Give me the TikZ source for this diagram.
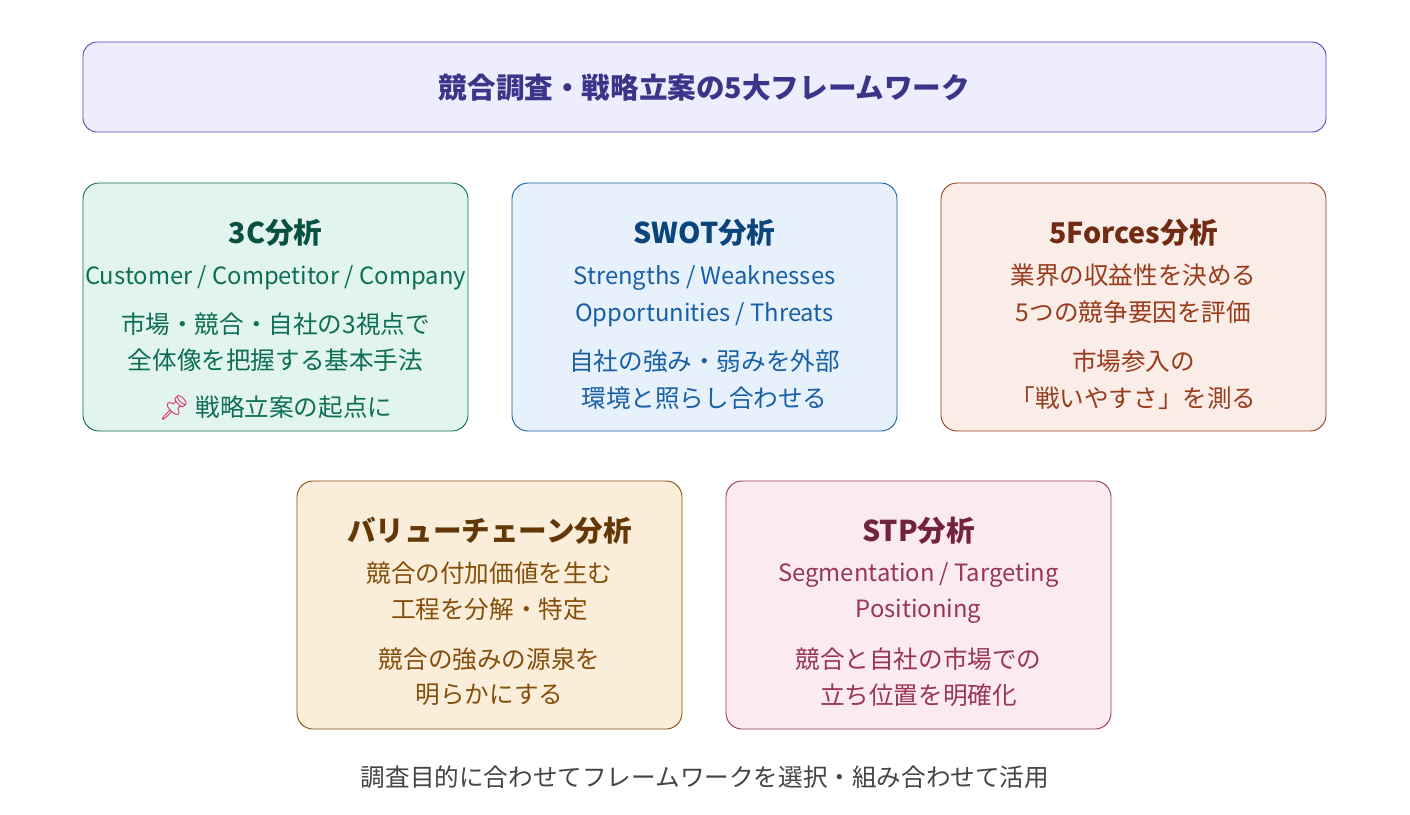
\documentclass[tikz,border=0pt]{standalone}
\usepackage{fontspec}
\setmainfont{Noto Sans CJK JP}
\newfontfamily\emojifont{Noto Emoji}
\definecolor{hdfill}{HTML}{EEEDFE}
\definecolor{hdline}{HTML}{534AB7}
\definecolor{hdtext}{HTML}{3C3489}
\definecolor{gfill}{HTML}{E1F5EE}
\definecolor{gline}{HTML}{0F6E56}
\definecolor{gtitle}{HTML}{085041}
\definecolor{bfill}{HTML}{E6F1FB}
\definecolor{bline}{HTML}{185FA5}
\definecolor{btitle}{HTML}{0C447C}
\definecolor{rfill}{HTML}{FAECE7}
\definecolor{rline}{HTML}{993C1D}
\definecolor{rtitle}{HTML}{712B13}
\definecolor{ofill}{HTML}{FAEEDA}
\definecolor{oline}{HTML}{854F0B}
\definecolor{otitle}{HTML}{633806}
\definecolor{pfill}{HTML}{FBEAF0}
\definecolor{pline}{HTML}{993556}
\definecolor{ptitle}{HTML}{72243E}
\definecolor{foot}{HTML}{444441}
\definecolor{pin}{HTML}{E0245E}
\tikzset{
  card/.style={draw=#1line, fill=#1fill, line width=0.9pt, rounded corners=16pt,
    minimum width=385pt, minimum height=248pt, inner sep=0pt},
  ctitle/.style={text=#1title, font=\fontsize{28.6}{34}\selectfont\bfseries, inner sep=0pt, anchor=center},
  cbody/.style={text=#1line, font=\fontsize{24.6}{36}\selectfont, inner sep=0pt, anchor=center},
  clatin/.style={text=#1line, font=\fontsize{23.8}{36}\selectfont, inner sep=0pt, anchor=center},
}
\begin{document}
\begin{tikzpicture}[x=1pt,y=-1pt]
\fill[white] (0,0) rectangle (1410,814);
\useasboundingbox (0,0) rectangle (1410,814);
% header
\node[draw=hdline, fill=hdfill, line width=0.9pt, rounded corners=14pt,
  minimum width=1243pt, minimum height=90pt, inner sep=0pt] (hdr) at (704.5,87) {};
\node[text=hdtext, font=\fontsize{28.6}{34}\selectfont\bfseries, inner sep=0pt] (hdrt) at (704.5,88) {競合調査・戦略立案の5大フレームワーク};
% row 1
\node[card=g] (c3) at (275.5,307) {};
\node[ctitle=g] (c3t) at (275.5,233) {3C分析};
\node[clatin=g] (c3a) at (275.5,277.5) {Customer / Competitor / Company};
\node[cbody=g] (c3b) at (275.5,324) {市場・競合・自社の3視点で};
\node[cbody=g] (c3c) at (275.5,360) {全体像を把握する基本手法};
\node[cbody=g] (c3d) at (275.5,408) {{\emojifont\textcolor{pin}{📌}} 戦略立案の起点に};
\node[card=b] (sw) at (704.5,307) {};
\node[ctitle=b] (swt) at (704.5,233) {SWOT分析};
\node[clatin=b] (swa) at (704.5,277.5) {Strengths / Weaknesses};
\node[clatin=b] (swb) at (704.5,314.5) {Opportunities / Threats};
\node[cbody=b] (swc) at (704.5,361) {自社の強み・弱みを外部};
\node[cbody=b] (swd) at (704.5,398) {環境と照らし合わせる};
\node[card=r] (ff) at (1133.5,307) {};
\node[ctitle=r] (fft) at (1133.5,233) {5Forces分析};
\node[cbody=r] (ffa) at (1133.5,275) {業界の収益性を決める};
\node[cbody=r] (ffb) at (1133.5,312) {5つの競争要因を評価};
\node[cbody=r] (ffc) at (1133.5,361) {市場参入の};
\node[cbody=r] (ffd) at (1133.5,398) {「戦いやすさ」を測る};
% row 2
\node[card=o] (vc) at (489.5,605) {};
\node[ctitle=o] (vct) at (489.5,531) {バリューチェーン分析};
\node[cbody=o] (vca) at (489.5,573) {競合の付加価値を生む};
\node[cbody=o] (vcb) at (489.5,609) {工程を分解・特定};
\node[cbody=o] (vcc) at (489.5,659) {競合の強みの源泉を};
\node[cbody=o] (vcd) at (489.5,695) {明らかにする};
\node[card=p] (st) at (918.5,605) {};
\node[ctitle=p] (stt) at (918.5,531) {STP分析};
\node[clatin=p] (sta) at (918.5,575.5) {Segmentation / Targeting};
\node[clatin=p] (stb) at (918.5,611.5) {Positioning};
\node[cbody=p] (stc) at (918.5,659) {競合と自社の市場での};
\node[cbody=p] (std) at (918.5,695) {立ち位置を明確化};
% footer
\node[text=foot, font=\fontsize{24.6}{36}\selectfont, inner sep=0pt] (ft) at (705,777) {調査目的に合わせてフレームワークを選択・組み合わせて活用};
\end{tikzpicture}
\end{document}
